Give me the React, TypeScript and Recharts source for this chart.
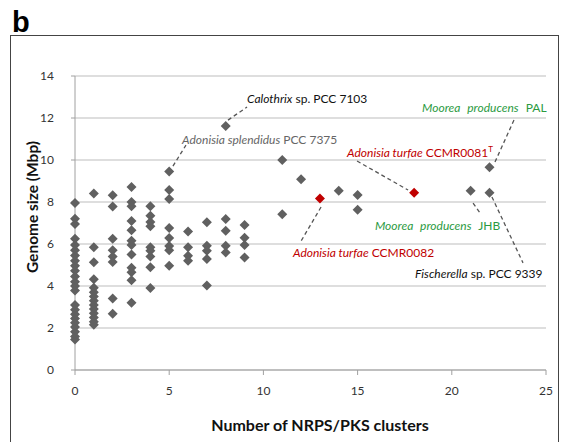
import React from "react";
import {
  ScatterChart, Scatter, XAxis, YAxis, CartesianGrid,
  ReferenceLine, ReferenceDot,
} from "recharts";

// number of NRPS/PKS clusters and the genome sizes (Mbp) seen at each count
const clusterCounts = [0, 1, 2, 3, 4, 5, 6, 7, 8, 9, 11, 12, 14, 15, 21, 22];
const genomeSizes = [
  [7.95, 7.2, 6.95, 6.25, 5.95, 5.7, 5.45, 5.2, 4.97, 4.73, 4.45, 4.2, 4.0, 3.78, 3.1, 2.87, 2.65, 2.45, 2.25, 2.05, 1.82, 1.6, 1.45],
  [8.4, 5.85, 5.13, 4.32, 3.92, 3.7, 3.5, 3.3, 3.1, 2.9, 2.7, 2.5, 2.3, 2.15],
  [8.32, 7.79, 6.25, 5.7, 5.4, 5.14, 3.4, 2.68],
  [8.72, 8.0, 7.8, 7.1, 6.65, 6.15, 5.95, 5.5, 4.87, 4.65, 4.27, 3.2],
  [7.8, 7.35, 7.05, 6.85, 5.84, 5.68, 5.4, 4.89, 3.9],
  [9.45, 8.57, 8.14, 6.76, 6.29, 5.9, 5.7, 4.97],
  [6.59, 5.84, 5.44, 5.2],
  [7.03, 5.92, 5.68, 5.29, 4.02],
  [11.62, 7.19, 6.63, 5.92, 5.6],
  [6.9, 6.3, 5.95, 5.36],
  [10.0, 7.42],
  [9.08],
  [8.53],
  [8.33, 7.63],
  [8.53],
  [9.66, 8.44],
];

// Adonisia turfae strains (highlighted in red)
const turfaeClusters = [13, 18];
const turfaeSizes = [8.17, 8.44];

const xTicks = [0, 5, 10, 15, 20, 25];
const yTicks = [0, 2, 4, 6, 8, 10, 12, 14];

type Part = { t: string; i?: boolean; sup?: boolean };

// label anchor (left baseline) and dashed leader, in data units
const labels: { x: number; y: number; color: string; parts: Part[]; spacing?: number; leader: [number, number, number, number] }[] = [
  { x: 9.13, y: 12.71, color: "#111", parts: [{ t: "Calothrix", i: true }, { t: " sp. PCC 7103" }], leader: [8.12, 11.9, 9.13, 12.52] },
  { x: 5.68, y: 10.76, color: "#666", parts: [{ t: "Adonisia splendidus", i: true }, { t: " PCC 7375" }], leader: [5.2, 9.71, 5.89, 10.71] },
  { x: 14.44, y: 10.14, color: "#c00000", parts: [{ t: "Adonisia turfae", i: true }, { t: " CCMR0081" }, { t: "T", sup: true }], leader: [14.97, 9.95, 17.68, 8.57] },
  { x: 18.42, y: 12.29, color: "#2b9a3f", spacing: 4, parts: [{ t: "Moorea producens", i: true }, { t: " PAL" }], leader: [23.3, 11.9, 22.29, 9.9] },
  { x: 15.92, y: 6.67, color: "#2b9a3f", spacing: 4, parts: [{ t: "Moorea producens", i: true }, { t: " JHB" }], leader: [21.13, 7.95, 21.5, 7.48] },
  { x: 11.57, y: 5.38, color: "#c00000", parts: [{ t: "Adonisia turfae", i: true }, { t: " CCMR0082" }], leader: [13.06, 7.76, 11.94, 6.05] },
  { x: 18.05, y: 4.38, color: "#111", parts: [{ t: "Fischerella", i: true }, { t: " sp. PCC 9339" }], leader: [22.13, 8.24, 23.78, 5.1] },
];

const FONT = "Lato, 'Open Sans', sans-serif";

const greyPoints = clusterCounts.flatMap((c, k) => genomeSizes[k].map((s) => ({ x: c, y: s })));
const redPoints = turfaeClusters.map((c, k) => ({ x: c, y: turfaeSizes[k] }));

const Diamond = (props: any) => {
  const { cx, cy, fill } = props;
  const r = 5;
  return <polygon points={`${cx},${cy - r} ${cx + r},${cy} ${cx},${cy + r} ${cx - r},${cy}`} fill={fill} />;
};

const makeLabel = (l: (typeof labels)[number]) => (props: any) => (
  <text x={props.cx} y={props.cy} fill={l.color} fontFamily={FONT} fontSize={12} style={{ wordSpacing: l.spacing ?? 0 }}>
    {l.parts.map((p, k) =>
      p.sup ? (
        <tspan key={k} fontSize={8} dy={-5}>{p.t}</tspan>
      ) : (
        <tspan key={k} fontStyle={p.i ? "italic" : "normal"}>{p.t}</tspan>
      )
    )}
  </text>
);

export default function App() {
  return (
    <div style={{ position: "absolute", left: 0, top: 0, width: 568, height: 442, background: "#fff", overflow: "hidden" }}>
      <svg width={568} height={442} style={{ position: "absolute", left: 0, top: 0 }}>
        <rect x={10.5} y={35.5} width={548} height={430} fill="none" stroke="#444" strokeWidth={1} />
        <text x={12} y={32} fontFamily="Arial, 'Liberation Sans', sans-serif" fontWeight="bold" fontSize={29} fill="#000">b</text>
        <text x={32} y={207} transform="rotate(-90 32 207)" textAnchor="middle" dominantBaseline="central" fontFamily={FONT} fontWeight="bold" fontSize={15.5} fill="#111">Genome size (Mbp)</text>
        <text x={320} y={431} textAnchor="middle" fontFamily={FONT} fontWeight="bold" fontSize={16} fill="#111">Number of NRPS/PKS clusters</text>
      </svg>
      <div style={{ position: "absolute", left: 0, top: 0 }}>
        <ScatterChart width={568} height={442} margin={{ top: 76, right: 22, bottom: 42, left: 45 }}>
          <CartesianGrid vertical={false} stroke="#bdbdbd" strokeWidth={1} />
          <XAxis
            type="number" dataKey="x" domain={[0, 25]} ticks={xTicks} interval={0}
            height={30} tickSize={5} tickMargin={11}
            tick={{ fill: "#333", fontSize: 12, fontFamily: FONT }}
            axisLine={{ stroke: "#a0a0a0" }} tickLine={{ stroke: "#a0a0a0" }}
          />
          <YAxis
            type="number" dataKey="y" domain={[0, 14]} ticks={yTicks} interval={0}
            width={30} tickSize={4} tickMargin={17}
            tick={{ fill: "#333", fontSize: 12, fontFamily: FONT }}
            axisLine={{ stroke: "#a0a0a0" }} tickLine={{ stroke: "#a0a0a0" }}
          />
          {labels.map((l, k) => (
            <ReferenceLine
              key={"l" + k}
              segment={[{ x: l.leader[0], y: l.leader[1] }, { x: l.leader[2], y: l.leader[3] }]}
              stroke="#555" strokeWidth={1.3} strokeDasharray="4 3"
            />
          ))}
          <Scatter data={greyPoints} fill="#606060" shape={Diamond} isAnimationActive={false} />
          <Scatter data={redPoints} fill="#c00000" shape={Diamond} isAnimationActive={false} />
          {labels.map((l, k) => (
            <ReferenceDot key={"t" + k} x={l.x} y={l.y} r={1} shape={makeLabel(l)} />
          ))}
        </ScatterChart>
      </div>
    </div>
  );
}
